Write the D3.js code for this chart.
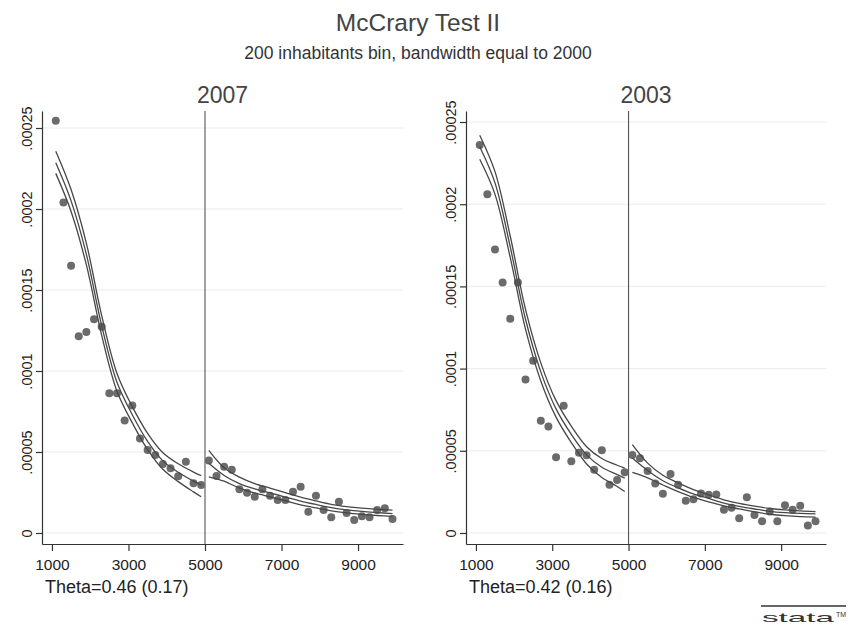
<!DOCTYPE html>
<html>
<head>
<meta charset="utf-8">
<script src="https://cdn.jsdelivr.net/npm/d3@7"></script>
<style>
  body { margin: 0; background: #fff; }
  svg { display: block; font-family: "Liberation Sans", Arial, sans-serif; }
</style>
</head>
<body>
<div id="chart"></div>
<script>
// bins of 200 inhabitants, cutoff at 5000
const binsLeft = [1100, 1300, 1500, 1700, 1900, 2100, 2300, 2500, 2700, 2900,
                  3100, 3300, 3500, 3700, 3900, 4100, 4300, 4500, 4700, 4900];
const binsRight = [5100, 5300, 5500, 5700, 5900, 6100, 6300, 6500, 6700, 6900,
                   7100, 7300, 7500, 7700, 7900, 8100, 8300, 8500, 8700, 8900,
                   9100, 9300, 9500, 9700, 9900];

const dens07Left = [0.0002545, 0.000204, 0.000165, 0.0001215, 0.000124, 0.000132, 0.0001273, 0.0000862, 0.0000862, 0.0000695,
                    0.0000787, 0.0000584, 0.0000512, 0.0000481, 0.0000426, 0.0000399, 0.000035, 0.000044, 0.0000307, 0.0000296];
const dens07Right = [0.0000448, 0.0000352, 0.0000409, 0.000039, 0.000027, 0.0000249, 0.0000224, 0.000027, 0.000023, 0.0000204,
                     0.0000204, 0.0000255, 0.0000286, 0.0000131, 0.000023, 0.0000142, 0.0000097, 0.0000193, 0.0000123, 0.000008,
                     0.0000103, 0.0000097, 0.0000142, 0.0000152, 0.0000086];

const dens03Left = [0.000236, 0.000206, 0.0001724, 0.0001523, 0.0001303, 0.0001523, 0.0000933, 0.0001048, 0.0000682, 0.0000648,
                    0.000046, 0.0000774, 0.0000437, 0.0000488, 0.0000473, 0.0000384, 0.0000504, 0.0000293, 0.0000323, 0.000037];
const dens03Right = [0.0000474, 0.0000455, 0.0000377, 0.0000301, 0.0000238, 0.0000359, 0.0000293, 0.0000196, 0.0000205, 0.000024,
                     0.0000232, 0.0000234, 0.0000142, 0.0000153, 0.000009, 0.0000218, 0.0000109, 0.0000071, 0.000013, 0.0000071,
                     0.0000168, 0.0000142, 0.0000165, 0.0000045, 0.0000072];

// fitted density and confidence band, read at knots
const knotsLeft = [1100, 1500, 1900, 2300, 2700, 3100, 3500, 3900, 4300, 4700, 4900];
const knotsRight = [5100, 5500, 5900, 6300, 6700, 7100, 7500, 7900, 8300, 8700, 9100, 9500, 9900];

const fit07Left = [0.0002285, 0.000205, 0.000172, 0.000128, 0.000093, 0.000073, 0.0000565, 0.0000445, 0.0000375, 0.000032, 0.0000296];
const up07Left  = [0.0002357, 0.000212, 0.0001788, 0.0001342, 0.0000985, 0.000078, 0.0000615, 0.0000495, 0.0000427, 0.0000376, 0.0000354];
const lo07Left  = [0.000222, 0.0001985, 0.0001655, 0.000122, 0.0000875, 0.000068, 0.0000515, 0.0000393, 0.0000317, 0.0000254, 0.0000224];
const fit07Right = [0.000043, 0.0000355, 0.0000305, 0.0000272, 0.0000247, 0.0000222, 0.0000197, 0.0000176, 0.0000157, 0.0000143, 0.0000133, 0.0000126, 0.000012];
const up07Right  = [0.000051, 0.0000403, 0.0000345, 0.0000305, 0.0000277, 0.0000249, 0.0000221, 0.0000198, 0.0000177, 0.0000163, 0.0000153, 0.0000146, 0.0000141];
const lo07Right  = [0.0000347, 0.000032, 0.0000277, 0.0000247, 0.0000223, 0.0000199, 0.0000174, 0.0000155, 0.0000137, 0.0000124, 0.0000115, 0.0000108, 0.0000102];

const fit03Left = [0.000235, 0.000213, 0.000174, 0.00013, 0.000098, 0.0000755, 0.00006, 0.0000475, 0.00004, 0.0000355, 0.0000334];
const up03Left  = [0.000242, 0.0002198, 0.0001805, 0.000136, 0.0001035, 0.0000805, 0.000065, 0.0000525, 0.0000453, 0.0000412, 0.0000394];
const lo03Left  = [0.0002273, 0.000206, 0.0001675, 0.000124, 0.0000925, 0.0000705, 0.000055, 0.000042, 0.0000338, 0.0000283, 0.0000252];
const fit03Right = [0.0000456, 0.000038, 0.0000318, 0.0000275, 0.0000238, 0.000021, 0.0000182, 0.0000162, 0.0000146, 0.0000132, 0.0000124, 0.0000119, 0.0000116];
const up03Right  = [0.0000537, 0.0000425, 0.0000351, 0.0000305, 0.0000264, 0.0000232, 0.0000202, 0.000018, 0.0000163, 0.0000149, 0.000014, 0.0000134, 0.000013];
const lo03Right  = [0.0000368, 0.0000335, 0.0000292, 0.0000251, 0.0000216, 0.000019, 0.0000165, 0.0000146, 0.0000129, 0.0000114, 0.0000105, 0.0000099, 0.0000096];

const xTicks = [1000, 3000, 5000, 7000, 9000];
const yTicks = [0, 0.00005, 0.0001, 0.00015, 0.0002, 0.00025];
const yTickLabels = ["0", ".00005", ".0001", ".00015", ".0002", ".00025"];
const cutoff = 5000;

const width = 852,
      height = 626;
const plotTop = 111,
      plotBottom = 544;

const svg = d3.select("#chart").append("svg")
    .attr("width", width)
    .attr("height", height)
    .style("background", "#fff");

svg.append("text")
    .attr("x", 418).attr("y", 31)
    .attr("text-anchor", "middle")
    .attr("font-size", 24.5)
    .attr("fill", "#444")
    .text("McCrary Test II");

svg.append("text")
    .attr("x", 418).attr("y", 59)
    .attr("text-anchor", "middle")
    .attr("font-size", 17.5)
    .attr("fill", "#333")
    .text("200 inhabitants bin, bandwidth equal to 2000");

const panels = [
  { title: "2007", theta: "Theta=0.46 (0.17)", x0: 42, x1: 403, yDomain: [-0.0000068, 0.0002605],
    dens: dens07Left.concat(dens07Right),
    fits: [[fit07Left, up07Left, lo07Left], [fit07Right, up07Right, lo07Right]] },
  { title: "2003", theta: "Theta=0.42 (0.16)", x0: 466, x1: 826, yDomain: [-0.0000067, 0.0002567],
    dens: dens03Left.concat(dens03Right),
    fits: [[fit03Left, up03Left, lo03Left], [fit03Right, up03Right, lo03Right]] }
];

const bins = binsLeft.concat(binsRight);

panels.forEach(drawPanel);

function drawPanel(p) {
  const x = d3.scaleLinear().domain([740, 10175]).range([p.x0, p.x1]);
  const y = d3.scaleLinear().domain(p.yDomain).range([plotBottom, plotTop]);
  const g = svg.append("g");

  // grid
  g.append("g")
    .selectAll("line")
    .data(yTicks)
    .join("line")
      .attr("x1", p.x0).attr("x2", p.x1)
      .attr("y1", d => y(d)).attr("y2", d => y(d))
      .attr("stroke", "#ebebeb")
      .attr("stroke-width", 1);

  // cutoff
  g.append("line")
      .attr("x1", x(cutoff)).attr("x2", x(cutoff))
      .attr("y1", plotTop).attr("y2", plotBottom)
      .attr("stroke", "#555")
      .attr("stroke-width", 1.1);

  // bins
  g.append("g")
    .selectAll("circle")
    .data(bins.map((b, i) => [b, p.dens[i]]))
    .join("circle")
      .attr("cx", d => x(d[0]))
      .attr("cy", d => y(d[1]))
      .attr("r", 4)
      .attr("fill", "#6b6b6b");

  // fitted density with band
  const line = d3.line()
    .x(d => x(d[0]))
    .y(d => y(d[1]))
    .curve(d3.curveCatmullRom);

  p.fits.forEach((set, side) => {
    const knots = side === 0 ? knotsLeft : knotsRight;
    set.forEach(vals => {
      g.append("path")
        .datum(knots.map((k, i) => [k, vals[i]]))
        .attr("d", line)
        .attr("fill", "none")
        .attr("stroke", "#474747")
        .attr("stroke-width", 1.3);
    });
  });

  // axes
  const yAxis = g.append("g")
    .attr("transform", `translate(${p.x0},0)`)
    .call(d3.axisLeft(y).tickValues(yTicks).tickSize(6).tickSizeOuter(0)
      .tickFormat((d, i) => yTickLabels[i]));
  yAxis.selectAll("text")
    .attr("transform", "rotate(-90)")
    .attr("x", 0).attr("y", -10).attr("dy", 0)
    .attr("text-anchor", "middle")
    .attr("font-size", 14.5)
    .attr("font-family", "Liberation Sans, Arial, sans-serif")
    .attr("fill", "#222");

  const xAxis = g.append("g")
    .attr("transform", `translate(0,${plotBottom})`)
    .call(d3.axisBottom(x).tickValues(xTicks).tickSize(7).tickSizeOuter(0)
      .tickFormat(d3.format("d")));
  xAxis.selectAll("text")
    .attr("y", 26).attr("dy", 0)
    .attr("font-size", 15.5)
    .attr("font-family", "Liberation Sans, Arial, sans-serif")
    .attr("fill", "#222");

  [yAxis, xAxis].forEach(a => {
    a.select(".domain").attr("stroke", "#333").attr("stroke-width", 1.2);
    a.selectAll(".tick line").attr("stroke", "#333").attr("stroke-width", 1.2);
  });

  g.append("text")
      .attr("x", (p.x0 + p.x1) / 2).attr("y", 103)
      .attr("text-anchor", "middle")
      .attr("font-size", 23)
      .attr("fill", "#444")
      .text(p.title);

  g.append("text")
      .attr("x", p.x0 + 3).attr("y", 593)
      .attr("font-size", 18)
      .attr("fill", "#222")
      .text(p.theta);
}

// stata mark
const logo = svg.append("g").attr("transform", "translate(761,606)");
logo.append("line")
    .attr("x1", 0).attr("x2", 85).attr("y1", 0).attr("y2", 0)
    .attr("stroke", "#333").attr("stroke-width", 1.3);
logo.append("text")
    .attr("x", 1).attr("y", 16)
    .attr("font-size", 13)
    .attr("textLength", 72)
    .attr("lengthAdjust", "spacingAndGlyphs")
    .attr("fill", "#333")
    .text("stata");
logo.append("text")
    .attr("x", 75).attr("y", 11)
    .attr("font-size", 7)
    .attr("fill", "#333")
    .text("TM");
</script>
</body>
</html>
